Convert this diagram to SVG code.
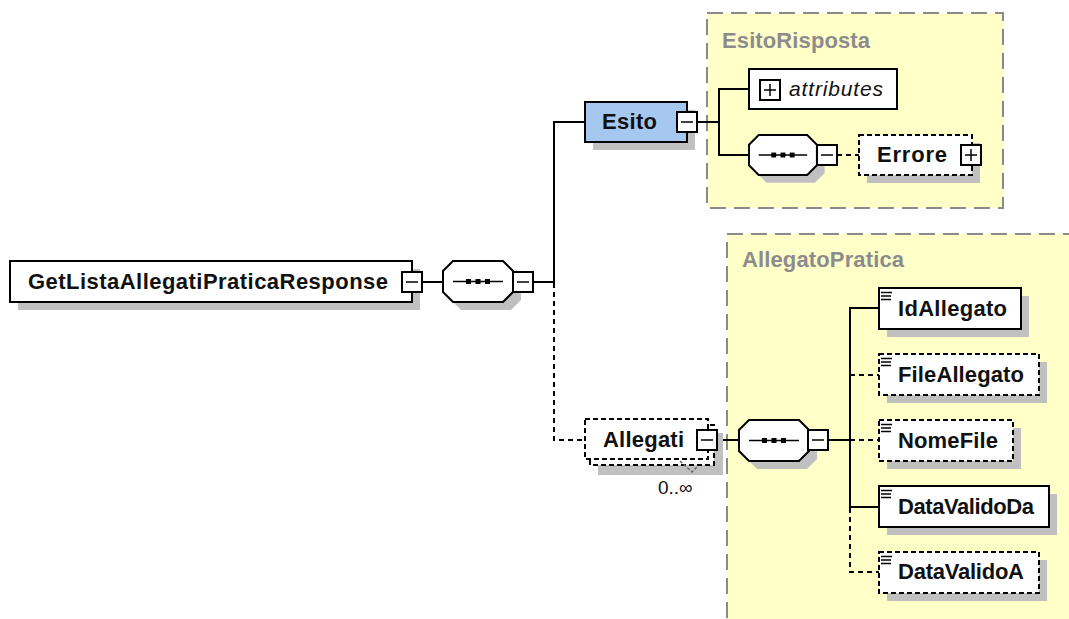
<svg xmlns="http://www.w3.org/2000/svg" xmlns:xlink="http://www.w3.org/1999/xlink" width="1069" height="619" viewBox="0 0 1069 619">
<style>
.box{fill:#fff;stroke:#000;stroke-width:2}
.dbox{fill:#fff;stroke:#000;stroke-width:2;stroke-dasharray:5,3}
.blue{fill:#a6c8f0;stroke:#000;stroke-width:2}
.shadow{fill:#c0c0c0}
.lbl{font-family:"Liberation Sans",Arial,sans-serif;font-weight:bold;font-size:22px;fill:#111}
.it{font-family:"Liberation Sans",Arial,sans-serif;font-style:italic;font-size:21px;fill:#111}
.occ{font-family:"Liberation Sans",Arial,sans-serif;font-size:19px;fill:#111}
.ct{fill:#ffffc8;stroke:#8a8a8a;stroke-width:2;stroke-dasharray:16,8}
.ctl{font-family:"Liberation Sans",Arial,sans-serif;font-weight:bold;font-size:22px;fill:#8c8c8c}
.line{stroke:#000;stroke-width:2;fill:none}
.dline{stroke:#000;stroke-width:2;fill:none;stroke-dasharray:5,4}
.thin{stroke:#000;stroke-width:1.5;fill:none}
</style>
<defs>
<g id="minus"><rect class="box" x="0" y="0" width="20" height="20"/><line class="thin" x1="4" y1="10" x2="16" y2="10"/></g>
<g id="plus"><rect class="box" x="0" y="0" width="20" height="20"/><line class="thin" x1="4" y1="10" x2="16" y2="10"/><line class="thin" x1="10" y1="4" x2="10" y2="16"/></g>
<g id="seq">
<polygon class="shadow" points="18,8 68,8 78,18 78,39 68,49 18,49 8,39 8,18"/>
<polygon class="box" points="10,0 60,0 70,10 70,31 60,41 10,41 0,31 0,10"/>
<line class="thin" x1="10" y1="20.5" x2="60" y2="20.5"/>
<rect x="23" y="18" width="5" height="5" fill="#000"/>
<rect x="32.5" y="18" width="5" height="5" fill="#000"/>
<rect x="42" y="18" width="5" height="5" fill="#000"/>
</g>
<g id="icon"><line class="thin" x1="2" y1="4.5" x2="13" y2="4.5"/><line class="thin" x1="2" y1="8" x2="12" y2="8"/><line class="thin" x1="2" y1="11.5" x2="12" y2="11.5"/></g>
</defs>
<rect width="1069" height="619" fill="#fff"/>

<g id="EsitoRisposta">
<rect class="ct" x="707" y="13" width="296" height="195"/>
<text class="ctl" x="722" y="48" textLength="148">EsitoRisposta</text>
</g>
<g id="AllegatoPratica">
<rect class="ct" x="727" y="234" width="360" height="420"/>
<text class="ctl" x="742" y="267" textLength="162">AllegatoPratica</text>
</g>

<g id="connectors">
<line class="line" x1="423" y1="282" x2="443" y2="282"/>
<polyline class="line" points="533,282 554,282 554,122 585,122"/>
<polyline class="dline" points="554,283 554,440 585,440"/>
<line class="line" x1="697" y1="122" x2="719" y2="122"/>
<polyline class="line" points="749,89 719,89 719,155 750,155"/>
<line class="dline" x1="837" y1="155" x2="859" y2="155"/>
<line class="line" x1="717" y1="440" x2="739" y2="440"/>
<line class="line" x1="828" y1="440" x2="850" y2="440"/>
<polyline class="line" points="879,308 850,308 850,507 879,507"/>
<line class="dline" x1="850" y1="375" x2="879" y2="375"/>
<line class="dline" x1="850" y1="440" x2="879" y2="440"/>
<polyline class="dline" points="850,508 850,572 879,572"/>
</g>

<g id="GetListaAllegatiPraticaResponse">
<rect class="shadow" x="18" y="269" width="402" height="41"/>
<rect class="box" x="10" y="261" width="402" height="41"/>
<text class="lbl" x="28" y="289" textLength="360">GetListaAllegatiPraticaResponse</text>
<use xlink:href="#minus" x="402" y="272"/>
</g>

<g id="seq1">
<use xlink:href="#seq" x="443" y="261"/>
<use xlink:href="#minus" x="513" y="272"/>
</g>

<g id="Esito">
<rect class="shadow" x="593" y="110" width="102" height="40"/>
<rect class="blue" x="585" y="102" width="102" height="40"/>
<text class="lbl" x="602" y="129" textLength="55">Esito</text>
<use xlink:href="#minus" x="677" y="112"/>
</g>

<g id="attributes">
<rect class="box" x="749" y="69" width="148" height="40"/>
<use xlink:href="#plus" x="760" y="80"/>
<text class="it" x="789" y="96" textLength="94">attributes</text>
</g>

<g id="seq2">
<use xlink:href="#seq" x="749" y="135" transform="translate(749,135) scale(0.97,0.976) translate(-749,-135)"/>
<use xlink:href="#minus" x="817" y="145"/>
</g>

<g id="Errore">
<rect class="shadow" x="867" y="143" width="113" height="40"/>
<rect class="dbox" x="859" y="135" width="113" height="40"/>
<text class="lbl" x="877" y="162" textLength="70">Errore</text>
<use xlink:href="#plus" x="961" y="145"/>
</g>

<g id="Allegati">
<rect class="shadow" x="598" y="433" width="125" height="42"/>
<rect class="dbox" x="590" y="425" width="124" height="40"/>
<rect class="dbox" x="585" y="419" width="123" height="40"/>
<text class="lbl" x="603" y="447" textLength="81">Allegati</text>
<use xlink:href="#minus" x="697" y="430"/>
<polyline points="680,461 692,472 697,467" fill="none" stroke="#666" stroke-width="1.5" stroke-dasharray="3,2"/>
<text class="occ" x="658" y="494">0..∞</text>
</g>

<g id="seq3">
<use xlink:href="#seq" x="739" y="420"/>
<use xlink:href="#minus" x="808" y="430"/>
</g>

<g id="IdAllegato">
<rect class="shadow" x="887" y="296" width="142" height="41"/>
<rect class="box" x="879" y="288" width="142" height="41"/>
<use xlink:href="#icon" x="879" y="288"/>
<text class="lbl" x="898" y="316" textLength="109">IdAllegato</text>
</g>

<g id="FileAllegato">
<rect class="shadow" x="887" y="362" width="160" height="41"/>
<rect class="dbox" x="879" y="354" width="160" height="41"/>
<use xlink:href="#icon" x="879" y="354"/>
<text class="lbl" x="898" y="382" textLength="126">FileAllegato</text>
</g>

<g id="NomeFile">
<rect class="shadow" x="887" y="428" width="134" height="41"/>
<rect class="dbox" x="879" y="420" width="134" height="41"/>
<use xlink:href="#icon" x="879" y="420"/>
<text class="lbl" x="898" y="448" textLength="100">NomeFile</text>
</g>

<g id="DataValidoDa">
<rect class="shadow" x="887" y="494" width="170" height="41"/>
<rect class="box" x="879" y="486" width="170" height="41"/>
<use xlink:href="#icon" x="879" y="486"/>
<text class="lbl" x="898" y="514" textLength="136">DataValidoDa</text>
</g>

<g id="DataValidoA">
<rect class="shadow" x="887" y="560" width="160" height="41"/>
<rect class="dbox" x="879" y="552" width="160" height="41"/>
<use xlink:href="#icon" x="879" y="552"/>
<text class="lbl" x="898" y="579" textLength="126">DataValidoA</text>
</g>
</svg>
